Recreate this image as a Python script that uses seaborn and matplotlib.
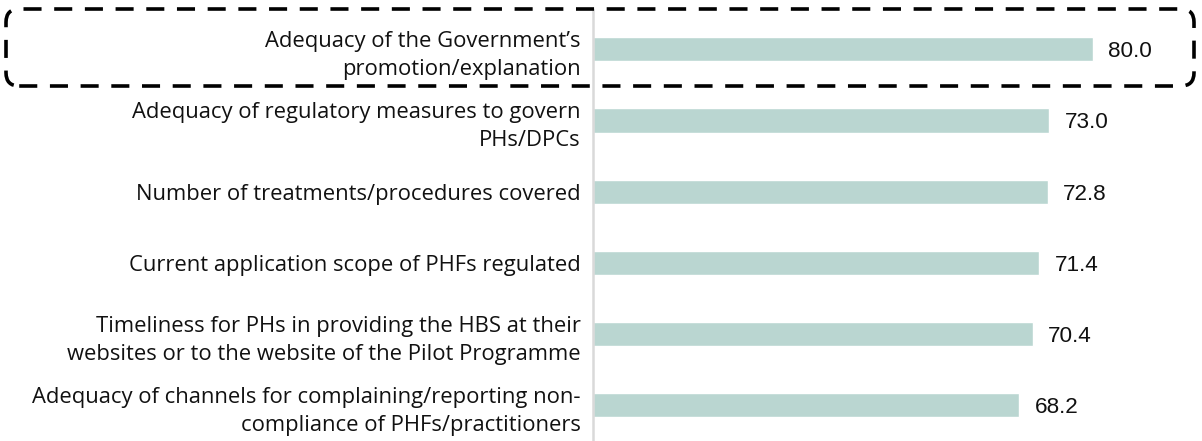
import matplotlib
matplotlib.use("Agg")
import matplotlib.pyplot as plt
import seaborn as sns
import pandas as pd
from matplotlib.patches import FancyBboxPatch

categories = [
    "Adequacy of the Government\u2019s\npromotion/explanation",
    "Adequacy of regulatory measures to govern\nPHs/DPCs",
    "Number of treatments/procedures covered",
    "Current application scope of PHFs regulated",
    "Timeliness for PHs in providing the HBS at their\nwebsites or to the website of the Pilot Programme",
    "Adequacy of channels for complaining/reporting non-\ncompliance of PHFs/practitioners",
]
scores = [80.0, 73.0, 72.8, 71.4, 70.4, 68.2]

df = pd.DataFrame({"item": categories, "score": scores})

sns.set_theme(style="white")
plt.rcParams["font.family"] = ["Open Sans", "DejaVu Sans"]

W, H = 1202, 441
fig = plt.figure(figsize=(W / 100, H / 100), dpi=100)
ax = fig.add_axes([593 / W, 0, (W - 593) / W, 1 - 10 / H])

sns.barplot(data=df, x="score", y="item", orient="h", color="#BAD6D1",
            saturation=1, width=0.34, ax=ax)

ax.set_xlim(0, (W - 593) / 6.25)
ax.set_ylim(5.5, -0.55)
ax.set_xlabel("")
ax.set_ylabel("")
ax.set_xticks([])

for s in ["top", "right", "bottom"]:
    ax.spines[s].set_visible(False)
ax.spines["left"].set_color("#D9D9D9")
ax.spines["left"].set_linewidth(1.8)

ax.tick_params(axis="y", length=0, pad=9)
for lab in ax.get_yticklabels():
    lab.set_fontsize(15.8)
    lab.set_color("#111111")
    lab.set_linespacing(1.45)

for container in ax.containers:
    texts = ax.bar_label(container, fmt="%.1f", padding=11, fontsize=16.2,
                         family="Liberation Sans", color="#111111")
    for t in texts:
        t.xyann = (t.xyann[0], -1.8)

# dashed highlight frame around the top item
box = FancyBboxPatch((6 / W, 1 - 86 / H), (1194 - 6) / W, (86 - 9) / H,
                     boxstyle="round,pad=0,rounding_size=0.011",
                     transform=fig.transFigure, fill=False,
                     edgecolor="black", linewidth=2.6,
                     linestyle=(0, (5, 3.5)), mutation_aspect=W / H)
fig.patches.append(box)

fig.savefig("out.png", dpi=100)
